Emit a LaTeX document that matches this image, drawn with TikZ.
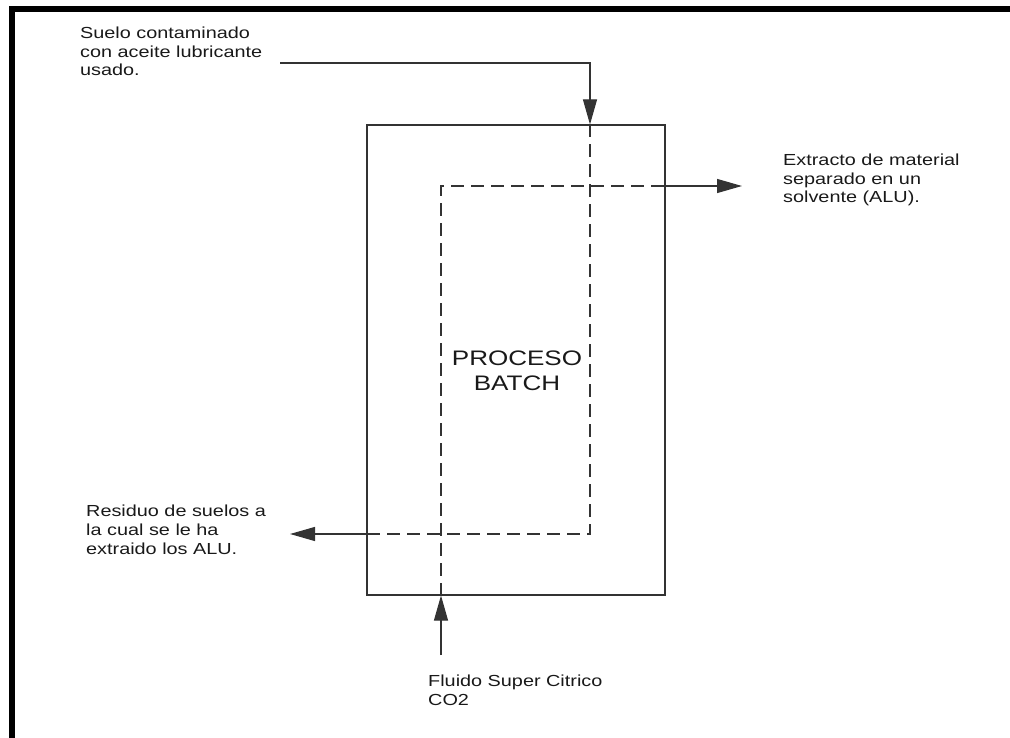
\documentclass[tikz,border=0pt]{standalone}
\usepackage{fontspec}
\usetikzlibrary{arrows.meta}
\newfontfamily\lab[FakeStretch=1.24]{Liberation Sans}
\begin{document}
\begin{tikzpicture}[x=1pt,y=-1pt,
  flow/.style={line width=1.1pt, draw=black!80},
  dashflow/.style={flow, dash pattern=on 13pt off 7pt},
  tip/.style={-{Triangle[length=25pt,width=14pt]}},
  txt/.style={inner sep=0pt, anchor=base west, align=left, text=black!90,
              font=\lab\fontsize{16}{18.7}\selectfont},
  big/.style={inner sep=0pt, anchor=base, align=center, text=black!90,
              font=\lab\fontsize{21}{25}\selectfont}]
\useasboundingbox (0,0) rectangle (1010,738);
% frame
\draw[line width=6pt] (12,738) -- (12,9) -- (1010,9);
% process box
\node[draw=black!80, line width=1.1pt, minimum width=298pt, minimum height=470pt, inner sep=0pt] (proc) at (516,360) {};
\node[big] (proclab) at (517,390) {PROCESO\\BATCH};
% labels
\node[txt] (suelo) at (80,76) {Suelo contaminado\\con aceite lubricante\\usado.};
\node[txt] (extr) at (783,203) {Extracto de material\\separado en un\\solvente (ALU).};
\node[txt] (resid) at (86,554) {Residuo de suelos a\\la cual se le ha\\extraido los ALU.};
\node[txt] (fluido) at (428,705) {Fluido Super Citrico\\CO2};
% coordinates
\coordinate (inStart) at (280,63);
\coordinate (inCorner) at (590,63);
\coordinate (inTip) at (proc.north -| inCorner);
\coordinate (aCorner) at (590,534);
\coordinate (aExit) at (proc.west |- aCorner);
\coordinate (aTip) at (290,534);
\coordinate (fStart) at (441,655);
\coordinate (fTip) at (proc.south -| fStart);
\coordinate (bCorner) at (441,186);
\coordinate (bExit) at (proc.east |- bCorner);
\coordinate (bTip) at (742,186);
% connectors
\draw[flow, tip] (inStart) -- (inCorner) -- (inTip);
\draw[dashflow] (inTip) -- (aCorner) -- (aExit);
\draw[flow, tip] (aExit) -- (aTip);
\draw[flow, tip] (fStart) -- (fTip);
\draw[dashflow] (fTip) -- (bCorner) -- (bExit);
\draw[flow, tip] (bExit) -- (bTip);
\end{tikzpicture}
\end{document}
